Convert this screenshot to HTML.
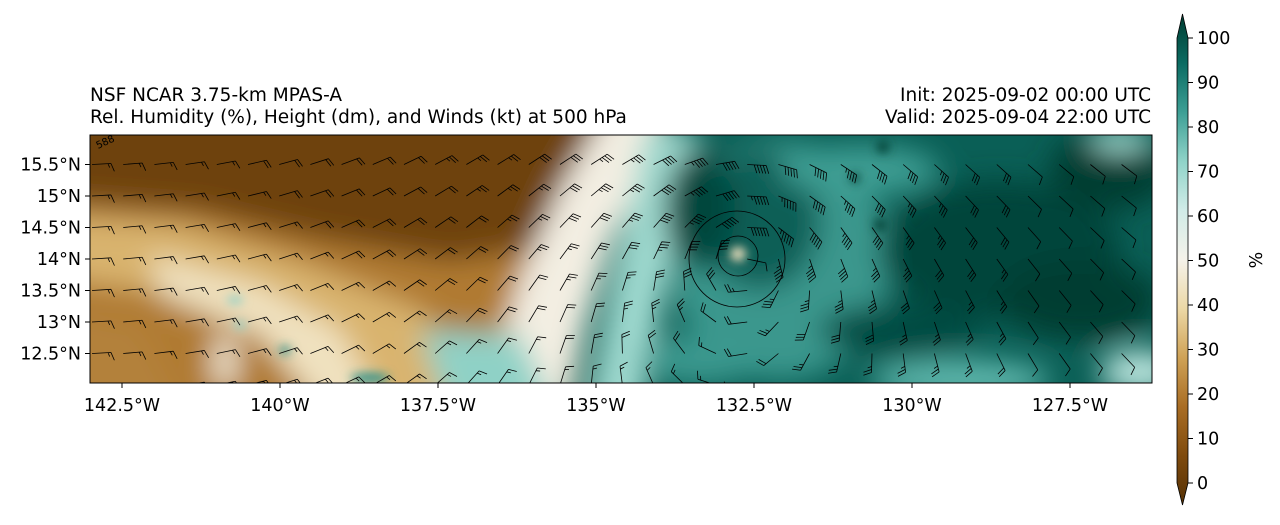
<!DOCTYPE html>
<html><head><meta charset="utf-8"><style>
body{margin:0;background:#fff;}
svg text{font-family:"DejaVu Sans","Liberation Sans",sans-serif;fill:#000;}
</style></head><body>
<svg id="fig" width="1280" height="520" viewBox="0 0 1280 520" xmlns="http://www.w3.org/2000/svg">
<defs>
<filter id="bl" x="-30%" y="-30%" width="160%" height="160%"><feGaussianBlur stdDeviation="14"/></filter>
<filter id="bl2" x="-50%" y="-50%" width="200%" height="200%"><feGaussianBlur stdDeviation="5"/></filter>
<clipPath id="mapclip"><rect x="90" y="135" width="1062" height="248"/></clipPath>
<linearGradient id="cbg" x1="0" y1="1" x2="0" y2="0">
<stop offset="0" stop-color="#543005"/><stop offset="0.1" stop-color="#7f4b0e"/><stop offset="0.2" stop-color="#a96d24"/><stop offset="0.3" stop-color="#cfa256"/><stop offset="0.4" stop-color="#ecd8a6"/><stop offset="0.5" stop-color="#f5f2ea"/><stop offset="0.6" stop-color="#d1ece8"/><stop offset="0.7" stop-color="#8fd3c8"/><stop offset="0.8" stop-color="#3d9f95"/><stop offset="0.9" stop-color="#0b6b62"/><stop offset="1" stop-color="#003c30"/>
</linearGradient>
</defs>
<text x="90" y="101" font-size="18.5">NSF NCAR 3.75-km MPAS-A</text>
<text x="90" y="123" font-size="18.5">Rel. Humidity (%), Height (dm), and Winds (kt) at 500 hPa</text>
<text x="1151" y="101" font-size="18.5" text-anchor="end">Init: 2025-09-02 00:00 UTC</text>
<text x="1151" y="123" font-size="18.5" text-anchor="end">Valid: 2025-09-04 22:00 UTC</text>

<g clip-path="url(#mapclip)">
<rect x="90" y="135" width="1062" height="248" fill="#0a5f56"/>
<g filter="url(#bl)">
<polygon points="40,100 670,100 640,170 600,240 570,420 40,420" fill="#b07a30"/>
<polygon points="40,100 630,100 600,190 560,245 450,262 320,240 200,212 40,200" fill="#6e420f"/>
<polygon points="40,215 180,225 300,262 420,310 520,420 400,420 300,345 180,295 40,275" fill="#d9b46e"/>
<polygon points="150,255 260,285 340,330 390,420 330,420 260,335 160,295" fill="#f0e2c0"/>
<polygon points="40,305 140,325 190,420 40,420" fill="#b3813a"/>
<ellipse cx="225" cy="362" rx="12" ry="28" fill="#f3ead4"/>
<polygon points="612,100 672,100 645,170 612,240 585,330 565,420 478,420 520,280 560,190" fill="#f3eee2"/>
<polygon points="645,130 700,130 672,250 640,420 585,420 615,270" fill="#9fd9cf"/>
<polygon points="420,330 520,335 560,420 450,420" fill="#8fd1c6"/>
<ellipse cx="780" cy="260" rx="110" ry="120" fill="#3a978d"/>
<ellipse cx="760" cy="220" rx="60" ry="70" fill="#0a5f56"/>
<ellipse cx="700" cy="210" rx="35" ry="60" fill="#02473e"/>
<ellipse cx="1000" cy="250" rx="120" ry="70" fill="#02453b"/>
<ellipse cx="1110" cy="170" rx="60" ry="40" fill="#003c30"/>
<ellipse cx="1080" cy="300" rx="80" ry="40" fill="#003c30"/>
<ellipse cx="900" cy="330" rx="80" ry="25" fill="#024c42"/>
<ellipse cx="860" cy="170" rx="80" ry="25" fill="#3d9d93"/>
<ellipse cx="960" cy="380" rx="90" ry="20" fill="#5fb8ad"/>
<ellipse cx="1140" cy="372" rx="40" ry="22" fill="#b9e4dd"/>
<ellipse cx="700" cy="360" rx="60" ry="25" fill="#3a988e"/>
<ellipse cx="1120" cy="140" rx="30" ry="12" fill="#9fd9cf"/>
</g>
<g filter="url(#bl2)">
<ellipse cx="738" cy="254" rx="8" ry="7" fill="#f4e3c0"/>
<ellipse cx="235" cy="300" rx="8" ry="4" fill="#8fd0c6"/>
<ellipse cx="240" cy="325" rx="6" ry="4" fill="#8fd0c6"/>
<ellipse cx="285" cy="350" rx="6" ry="4" fill="#2e8f86"/>
<ellipse cx="370" cy="378" rx="20" ry="5" fill="#2e8f86"/>
<circle cx="880" cy="225" r="6" fill="#003c30"/>
<circle cx="855" cy="178" r="5" fill="#003c30"/>
<circle cx="883" cy="147" r="6" fill="#003c30"/>
</g>
<g fill="none" stroke="#000" stroke-width="0.8">
<circle cx="738" cy="256" r="20"/>
<circle cx="737" cy="259" r="48"/>
</g>
<text x="98" y="149" font-size="10" fill="#333" transform="rotate(-25 98 149)">588</text>
<g id="barbs"></g>
</g>
<rect x="90" y="135" width="1062" height="248" fill="none" stroke="#000" stroke-width="1"/>
<g id="yaxis"></g>
<g id="xaxis"></g>

<g>
<path d="M1182.5,14 L1188,38 L1188,483 L1182.5,505 L1177,483 L1177,38 Z" fill="url(#cbg)" stroke="#000" stroke-width="0.8"/>
<g id="cbticks"></g>
<text x="1262" y="260" font-size="17.5" text-anchor="middle" transform="rotate(-90 1262 260)">%</text>
</g>
</svg>
<script>
const latTicks=[15.5,15,14.5,14,13.5,13,12.5];
const lonTicks=[142.5,140,137.5,135,132.5,130,127.5];
const cbTicks=[0,10,20,30,40,50,60,70,80,90,100];
const barbLats=[15.5,15,14.5,14,13.5,13,12.5,12];
const stormCenter=[132.6,14.05];
const envWind=[-16,3];
const NS='http://www.w3.org/2000/svg';
function yLat(l){return 259-(l-14)*63;}
function xLon(l){return 754-(l-132.5)*63.2;}
function cbY(v){return 483-v*4.45;}
function mk(tag,attrs,parent){const e=document.createElementNS(NS,tag);for(const k in attrs)e.setAttribute(k,attrs[k]);parent.appendChild(e);return e;}
const ya=document.getElementById('yaxis'),xa=document.getElementById('xaxis'),cb=document.getElementById('cbticks');
latTicks.forEach(l=>{const y=yLat(l);
 mk('line',{x1:85,x2:90,y1:y,y2:y,stroke:'#000'},ya);
 const t=mk('text',{x:81,y:y+6,'font-size':17.5,'text-anchor':'end'},ya);
 
 
 t.textContent=l+'°N';});
lonTicks.forEach(l=>{const x=xLon(l);
 mk('line',{x1:x,x2:x,y1:383,y2:388,stroke:'#000'},xa);
 const t=mk('text',{x:x,y:411,'font-size':17.5,'text-anchor':'middle'},xa);
 
 
 t.textContent=l+'°W';});
cbTicks.forEach(v=>{const y=cbY(v);
 mk('line',{x1:1188,x2:1193,y1:y,y2:y,stroke:'#000'},cb);
 const t=mk('text',{x:1197,y:y+6,'font-size':17.5},cb);
 
 
 t.textContent=v;});
const bg=document.getElementById('barbs');
const cx=xLon(stormCenter[0]),cy=yLat(stormCenter[1]);
for(const lat of barbLats){
 for(let i=0;i<34;i++){
  const x=92+i*31.2,y=yLat(lat);
  const rx=x-cx,ry=-(y-cy);const r=Math.hypot(rx,ry)+1;
  const vs=50*Math.exp(-r/260)*Math.min(1,r/25);
  let u=envWind[0]+(-ry/r)*vs, v=envWind[1]+(rx/r)*vs;
  if(x>1000){u*=0.4;v*=0.4;}
  const sp=Math.hypot(u,v);
  const g=mk('g',{},bg);
  
  
  if(sp<5){mk('circle',{cx:x,cy:y,r:2.5,fill:'none',stroke:'#000','stroke-width':0.8},g);continue;}
  const dx=-u/sp,dy=v/sp; const L=19;
  const ex=x+dx*L,ey=y+dy*L;
  let d=`M${x},${y}L${ex},${ey}`;
  const px=-dy,py=dx;
  let n=Math.round(sp/5),k=0;
  while(n>=2){const bx=ex-dx*k*3,by=ey-dy*k*3;d+=`M${bx},${by}l${(px*8+dx*3).toFixed(1)},${(py*8+dy*3).toFixed(1)}`;n-=2;k++;}
  if(n==1){const bx=ex-dx*(k*3+(k?0:3)),by=ey-dy*(k*3+(k?0:3));d+=`M${bx},${by}l${(px*4+dx*1.5).toFixed(1)},${(py*4+dy*1.5).toFixed(1)}`;}
  mk('path',{d:d,fill:'none',stroke:'#000','stroke-width':0.8},g);
 }
}
</script>
</body></html>
